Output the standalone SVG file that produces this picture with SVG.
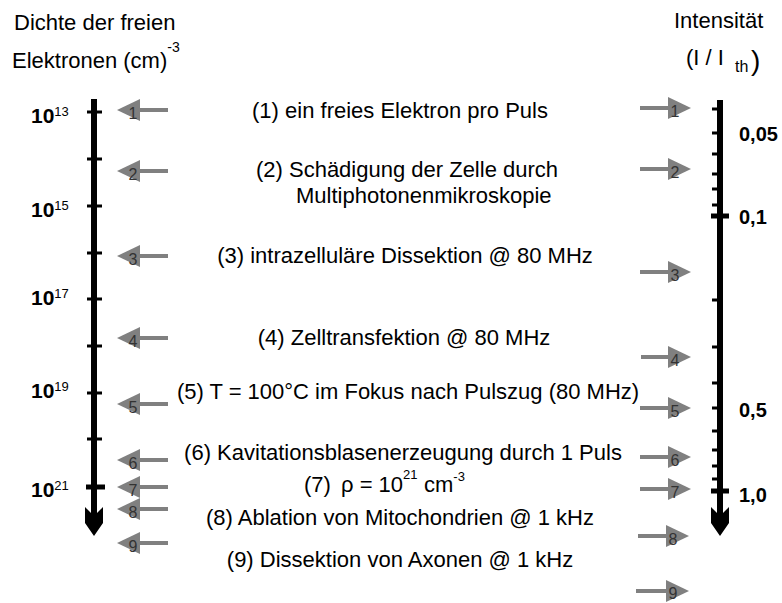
<svg xmlns="http://www.w3.org/2000/svg" width="782" height="603" viewBox="0 0 782 603">
<style>
text{font-family:"Liberation Sans",Arial,sans-serif;fill:#000}
.t{font-size:22px}
.c{font-size:22px;text-anchor:middle}
.lab{font-size:21px;font-weight:bold}
.rl{font-size:20px;font-weight:bold}
.sup{font-size:13px;font-weight:normal}
.n{font-size:16px;fill:#333;text-anchor:middle}
.sh{stroke:#808080;stroke-width:4;fill:none}
.hd{fill:#808080}
.ax{stroke:#000;stroke-width:6;fill:none}
.tk{stroke:#000;stroke-width:3;fill:none}
.tkb{stroke:#000;stroke-width:5;fill:none}
</style>
<rect width="782" height="603" fill="#fff"/>
<g id="header-left">
<text class="t" x="14" y="30">Dichte der freien</text>
<text class="t" x="12" y="68">Elektronen (cm)<tspan font-size="14" dy="-16">-3</tspan></text>
</g>
<g id="header-right">
<text class="t" x="674" y="28">Intensität</text>
<text class="t" x="686" y="65">(I / I</text>
<text x="735" y="72" font-size="16">th</text>
<text x="751" y="70" font-size="28">)</text>
</g>
<g id="axis-left">
<line class="ax" x1="94" y1="99" x2="94" y2="518"/>
<polygon points="85,507 94,516 103,507 103,523 94,536 85,523" fill="#000"/>
<path class="tk" d="M87,112H102M87,159H102M87,206H102M87,253H102M87,299H102M87,346H102M87,393H102M87,439H102"/>
<line class="tkb" x1="86" y1="487" x2="105" y2="487"/>
<text class="lab" x="31" y="123">10<tspan class="sup" dy="-7">13</tspan></text>
<text class="lab" x="31" y="217">10<tspan class="sup" dy="-7">15</tspan></text>
<text class="lab" x="31" y="305">10<tspan class="sup" dy="-7">17</tspan></text>
<text class="lab" x="31" y="398">10<tspan class="sup" dy="-7">19</tspan></text>
<text class="lab" x="31" y="497">10<tspan class="sup" dy="-7">21</tspan></text>
</g>
<g id="axis-right">
<line class="ax" x1="720" y1="100" x2="720" y2="518"/>
<polygon points="711,507 720,516 729,507 729,523 720,536 711,523" fill="#000"/>
<path class="tk" d="M712,109H720M712,133H720M712,154H720M712,174H720M712,189H720M712,205H720M712,300H720M712,347H720M712,383H720M712,408H720M712,431H720M712,450H720M712,466H720M712,479H720"/>
<line class="tkb" x1="711" y1="216" x2="729" y2="216"/>
<line class="tkb" x1="711" y1="491" x2="729" y2="491"/>
<text class="rl" x="739" y="141">0,05</text>
<text class="rl" x="739" y="224">0,1</text>
<text class="rl" x="739" y="417">0,5</text>
<text class="rl" x="739" y="502">1,0</text>
</g>
<g id="connectors">
<g id="left-arrows">
<path class="sh" d="M140,110H168M140,171H168M140,256H168M140,338H168M140,404H168M140,460H168M140,487H168M140,509H168M140,543H168"/>
<polygon class="hd" points="117,110 140,99 140,121"/>
<polygon class="hd" points="117,171 140,160 140,182"/>
<polygon class="hd" points="117,256 140,245 140,267"/>
<polygon class="hd" points="117,338 140,327 140,349"/>
<polygon class="hd" points="117,404 140,393 140,415"/>
<polygon class="hd" points="117,460 140,449 140,471"/>
<polygon class="hd" points="117,487 140,476 140,498"/>
<polygon class="hd" points="117,509 140,498 140,520"/>
<polygon class="hd" points="117,543 140,532 140,554"/>
<text class="n" x="133" y="119">1</text>
<text class="n" x="133" y="180">2</text>
<text class="n" x="133" y="265">3</text>
<text class="n" x="133" y="347">4</text>
<text class="n" x="133" y="413">5</text>
<text class="n" x="133" y="469">6</text>
<text class="n" x="133" y="496">7</text>
<text class="n" x="133" y="518">8</text>
<text class="n" x="133" y="552">9</text>
</g>
<g id="right-arrows">
<path class="sh" d="M640,108H668M640,169H668M640,272H668M641,357H668M640,408H668M640,457H668M640,489H668M638,536H668M636,591H668"/>
<polygon class="hd" points="691,108 668,97 668,119"/>
<polygon class="hd" points="691,169 668,158 668,180"/>
<polygon class="hd" points="691,272 668,261 668,283"/>
<polygon class="hd" points="691,357 668,346 668,368"/>
<polygon class="hd" points="691,408 668,397 668,419"/>
<polygon class="hd" points="691,457 668,446 668,468"/>
<polygon class="hd" points="691,489 668,478 668,500"/>
<polygon class="hd" points="689,536 666,525 666,547"/>
<polygon class="hd" points="689,591 666,580 666,602"/>
<text class="n" x="675" y="117">1</text>
<text class="n" x="675" y="178">2</text>
<text class="n" x="675" y="281">3</text>
<text class="n" x="675" y="366">4</text>
<text class="n" x="675" y="417">5</text>
<text class="n" x="675" y="466">6</text>
<text class="n" x="675" y="498">7</text>
<text class="n" x="673" y="545">8</text>
<text class="n" x="673" y="599">9</text>
</g>
</g>
<g id="labels">
<text class="c" x="400" y="118">(1) ein freies Elektron pro Puls</text>
<text class="c" x="407" y="177">(2) Schädigung der Zelle durch</text>
<text class="t" x="296" y="203">Multiphotonenmikroskopie</text>
<text class="c" x="405" y="263">(3) intrazelluläre Dissektion @ 80 MHz</text>
<text class="c" x="404" y="345">(4) Zelltransfektion @ 80 MHz</text>
<text class="c" x="408" y="399">(5) T = 100°C im Fokus nach Pulszug (80 MHz)</text>
<text class="c" x="403" y="460">(6) Kavitationsblasenerzeugung durch 1 Puls</text>
<text class="t" x="304" y="492">(7)<tspan x="341">ρ = 10</tspan><tspan font-size="13" dy="-13">21</tspan><tspan x="424" dy="13">cm</tspan><tspan font-size="13" dy="-11">-3</tspan></text>
<text class="c" x="400" y="525">(8) Ablation von Mitochondrien @ 1 kHz</text>
<text class="c" x="400" y="567">(9) Dissektion von Axonen @ 1 kHz</text>
</g>
</svg>
